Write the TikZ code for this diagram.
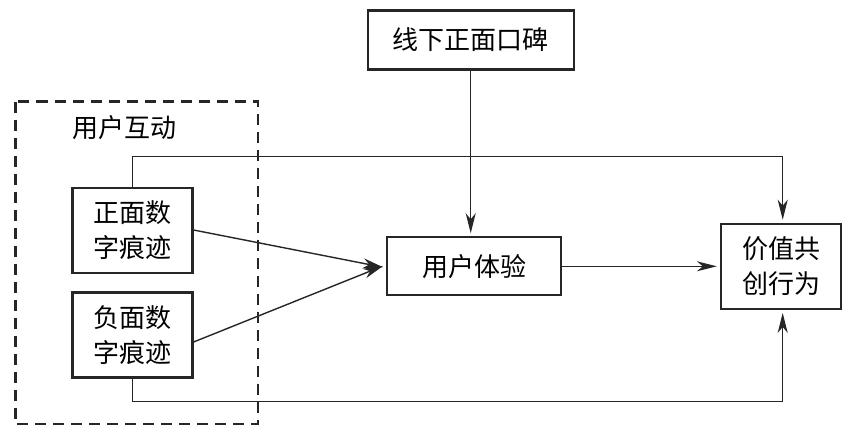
\documentclass[tikz,border=0pt]{standalone}
\usepackage{fontspec}
\setmainfont{Noto Sans CJK SC}
\usetikzlibrary{arrows.meta}
\begin{document}
\begin{tikzpicture}[x=1pt,y=-1pt,
  box/.style={draw=black!85,line width=2.2pt,inner sep=0pt,align=center,font=\fontsize{26}{35}\selectfont},
  conn/.style={draw=black!85,line width=1.4pt},
  arr/.style={conn,-{Stealth[length=20pt,width=10pt,inset=6pt]},shorten >=3pt}]
\useasboundingbox (0,0) rectangle (849,432);
\fill[white] (0,0) rectangle (849,432);
% dashed group
\draw[black!85,line width=2.2pt,dash pattern=on 11pt off 7pt] (15.5,101.5) rectangle (258,424);
\node[font=\fontsize{26}{30}\selectfont] (grp) at (124,128) {用户互动};
% boxes
\node[box,minimum width=206pt,minimum height=59pt] (wom) at (470.7,40) {线下正面口碑};
\node[box,minimum width=120pt,minimum height=85pt] (pos) at (132.5,230.5) {正面数\\字痕迹};
\node[box,minimum width=120pt,minimum height=85pt] (neg) at (132.5,335) {负面数\\字痕迹};
\node[box,minimum width=174pt,minimum height=58pt] (ux) at (474,266.3) {用户体验};
\node[box,minimum width=120pt,minimum height=85pt] (vcc) at (781,266.3) {价值共\\创行为};
% connectors
\coordinate (tl) at (132.5,156.7);
\coordinate (tr) at (782.7,156.7);
\coordinate (bl) at (132.5,401.5);
\coordinate (br) at (782.7,401.5);
\draw[arr] (wom.south -| 470.7,0) -- (ux.north -| 470.7,0);
\draw[arr] (pos.north) -- (tl) -- (tr) -- (vcc.north -| tr);
\draw[arr] (neg.south) -- (bl) -- (br) -- (vcc.south -| br);
\draw[arr] (pos.east |- 0,230) -- ([yshift=-1.5pt]ux.west);
\draw[arr] (neg.east |- 0,342) -- ([yshift=1.5pt]ux.west);
\draw[arr] (ux.east) -- (vcc.west);
\end{tikzpicture}
\end{document}
